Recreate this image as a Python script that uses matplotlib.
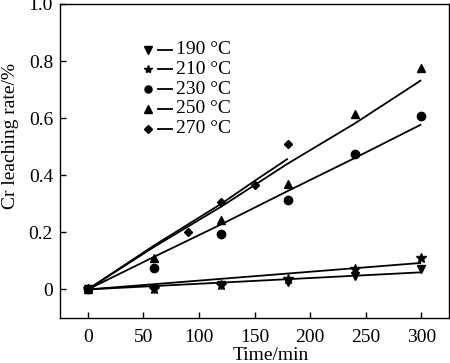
import matplotlib
matplotlib.use("Agg")
import matplotlib.pyplot as plt

plt.rcParams['font.family'] = ['Liberation Serif', 'DejaVu Serif']
plt.rcParams['mathtext.fontset'] = 'stix'

# measured data
t_190 = [0, 60, 120, 180, 240, 300]
y_190 = [0, 0.0, 0.015, 0.027, 0.047, 0.072]
t_210 = [0, 60, 120, 180, 240, 300]
y_210 = [0, 0.003, 0.017, 0.035, 0.073, 0.111]
t_230 = [0, 60, 120, 180, 240, 300]
y_230 = [0, 0.076, 0.194, 0.313, 0.475, 0.607]
t_250 = [0, 60, 120, 180, 240, 300]
y_250 = [0, 0.111, 0.243, 0.371, 0.616, 0.776]
t_270 = [0, 90, 120, 150, 180]
y_270 = [0, 0.202, 0.307, 0.367, 0.509]

# fitted lines
ft_190 = [0, 300]
fy_190 = [0, 0.060]
ft_210 = [0, 300]
fy_210 = [0, 0.093]
ft_230 = [0, 60, 120, 180, 240, 300]
fy_230 = [0, 0.115, 0.228, 0.345, 0.460, 0.578]
ft_250 = [0, 60, 120, 180, 240, 300]
fy_250 = [0, 0.150, 0.290, 0.441, 0.581, 0.733]
ft_270 = [0, 60, 120, 150, 180]
fy_270 = [0, 0.155, 0.300, 0.380, 0.458]

labels = ['190 °C', '210 °C', '230 °C', '250 °C', '270 °C']
markers = ['v', '*', 'o', '^', 'D']
msizes = [6, 7, 6, 6, 4.5]

FS = 14

fig = plt.figure(figsize=(4.5, 3.63), dpi=100)
ax = fig.add_axes([60/450, 1-318/363, 389/450, 314/363])

series = [(t_190, y_190, ft_190, fy_190), (t_210, y_210, ft_210, fy_210),
          (t_230, y_230, ft_230, fy_230), (t_250, y_250, ft_250, fy_250),
          (t_270, y_270, ft_270, fy_270)]
for (t, y, ft, fy), m, ms in zip(series, markers, msizes):
    ax.plot(ft, fy, color='black', lw=1.3, solid_capstyle='butt')
    ax.plot(t, y, ls='none', marker=m, ms=ms, color='black')

# custom legend
for i, (lab, m, ms) in enumerate(zip(labels, markers, msizes)):
    yy = 0.855 - i * 0.0629
    ax.plot([0.227], [yy], transform=ax.transAxes, marker=m, ms=ms*0.85,
            color='black', ls='none', clip_on=False)
    ax.plot([0.252, 0.288], [yy, yy], transform=ax.transAxes, color='black', lw=1.3)
    ax.text(0.298, yy, lab, transform=ax.transAxes, fontsize=FS, va='center', ha='left')

ax.set_xlim(-25, 325)
ax.set_ylim(-0.1, 1.0)
ax.set_xticks([0, 50, 100, 150, 200, 250, 300])
ax.set_yticks([0, 0.2, 0.4, 0.6, 0.8, 1.0])
ax.set_yticklabels(['0', '0.2', '0.4', '0.6', '0.8', '1.0'])
ax.tick_params(direction='in', labelsize=FS, length=4, width=1)
ax.tick_params(axis='x', pad=8)
ax.tick_params(axis='y', pad=5)
for s in ax.spines.values():
    s.set_linewidth(1.0)
ax.set_xlabel('Time/min', fontsize=FS)
ax.set_ylabel('Cr leaching rate/%', fontsize=FS)
ax.xaxis.set_label_coords(0.542, -0.092)
ax.yaxis.set_label_coords(-0.106, 0.58)

fig.savefig('out.png', dpi=100)
